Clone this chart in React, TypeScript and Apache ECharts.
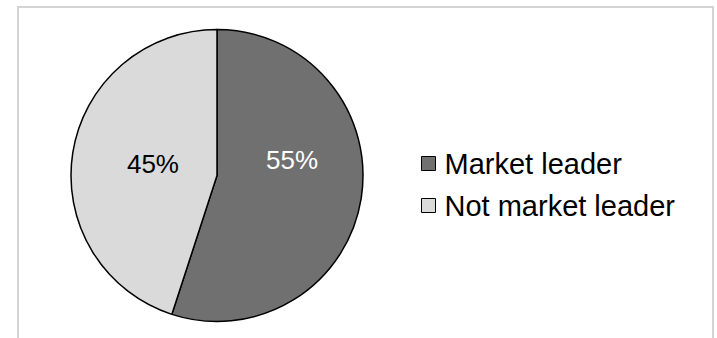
import React, { useEffect, useRef } from "react";
import * as echarts from "echarts";

const categories = ["Market leader", "Not market leader"];
const values = [55, 45];
const colors = ["#707070", "#dadada"];
const labelColors = ["#ffffff", "#000000"];
const labelOffsets = [[0, -27], [11, 0]];

export default function App() {
  const ref = useRef<HTMLDivElement>(null);
  useEffect(() => {
    if (!ref.current) return;
    const chart = echarts.init(ref.current, null, { renderer: "svg" });
    chart.setOption({
      animation: false,
      backgroundColor: "#ffffff",
      graphic: [
        {
          type: "rect",
          shape: { x: 18, y: 7, width: 695, height: 345 },
          style: { fill: "none", stroke: "#d4d4d4", lineWidth: 2 },
          silent: true,
        },
      ],
      legend: {
        orient: "vertical",
        left: 421,
        top: 149,
        padding: 0,
        icon: "rect",
        itemWidth: 14,
        itemHeight: 14,
        itemGap: 13,
        data: categories,
        itemStyle: { borderColor: "#000000", borderWidth: 1 },
        textStyle: {
          fontFamily: "Liberation Sans, Arial, sans-serif",
          fontSize: 29,
          color: "#000000",
          lineHeight: 29,
          padding: [0, 0, 0, 4],
        },
      },
      series: [
        {
          type: "pie",
          center: [217, 175.5],
          radius: 146,
          startAngle: 90,
          clockwise: true,
          avoidLabelOverlap: false,
          itemStyle: { borderColor: "#000000", borderWidth: 1.5 },
          label: {
            show: true,
            position: "inside",
            formatter: "{d}%",
            fontFamily: "Liberation Sans, Arial, sans-serif",
            fontSize: 26,
          },
          labelLine: { show: false },
          emphasis: { disabled: true },
          data: categories.map((name, i) => ({
            name,
            value: values[i],
            itemStyle: { color: colors[i] },
            label: { color: labelColors[i], offset: labelOffsets[i] },
          })),
        },
      ],
    });
    return () => chart.dispose();
  }, []);
  return (
    <div
      ref={ref}
      style={{ position: "fixed", left: 0, top: 0, width: 717, height: 338 }}
    />
  );
}
